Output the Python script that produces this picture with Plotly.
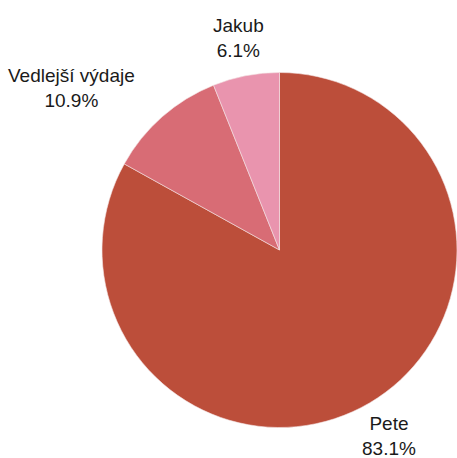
import math
import plotly.graph_objects as go

labels = ["Pete", "Vedlejší výdaje", "Jakub"]
values = [83.06, 10.88, 6.06]
colors = ["#BC4E3A", "#D86C75", "#E994AE"]

W, H = 457, 458
dom_x = [102 / W, 1.0]
dom_y = [1 - 428 / H, 1 - 72 / H]

fig = go.Figure(go.Pie(
    labels=labels,
    values=values,
    sort=False,
    direction="clockwise",
    rotation=0,
    marker=dict(colors=colors, line=dict(color="#F4E4E4", width=0.6)),
    textinfo="none",
    hoverinfo="label+percent",
    showlegend=False,
    domain=dict(x=dom_x, y=dom_y),
))

# outside labels placed along each slice's mid-angle
cx = (dom_x[0] + dom_x[1]) / 2 * W
cy = (1 - (dom_y[0] + dom_y[1]) / 2) * H
label_r = 216
total = sum(values)
cum = 0.0
for lab, v in zip(labels, values):
    mid = (cum + v / 2) / total * 2 * math.pi
    cum += v
    s, c = math.sin(mid), math.cos(mid)
    px = cx + label_r * s
    py = cy - label_r * c
    if s < -0.6:
        xa = "right"
    elif s > 0.6:
        xa = "left"
    else:
        xa = "center"
    fig.add_annotation(
        x=px / W, y=1 - py / H, xref="paper", yref="paper",
        text=f"{lab}<br>{v / total * 100:.1f}%",
        showarrow=False, xanchor=xa, yanchor="middle", align="center",
        font=dict(family="Liberation Sans, Arial, sans-serif", size=19, color="#1a1a1a"),
    )

fig.update_layout(
    width=W, height=H,
    margin=dict(l=0, r=0, t=0, b=0),
    paper_bgcolor="white",
    plot_bgcolor="white",
    showlegend=False,
)

fig.write_html(
    "out.html",
    config={"displayModeBar": False},
    post_script="document.body.style.margin='0px';document.body.style.overflow='hidden';",
)
